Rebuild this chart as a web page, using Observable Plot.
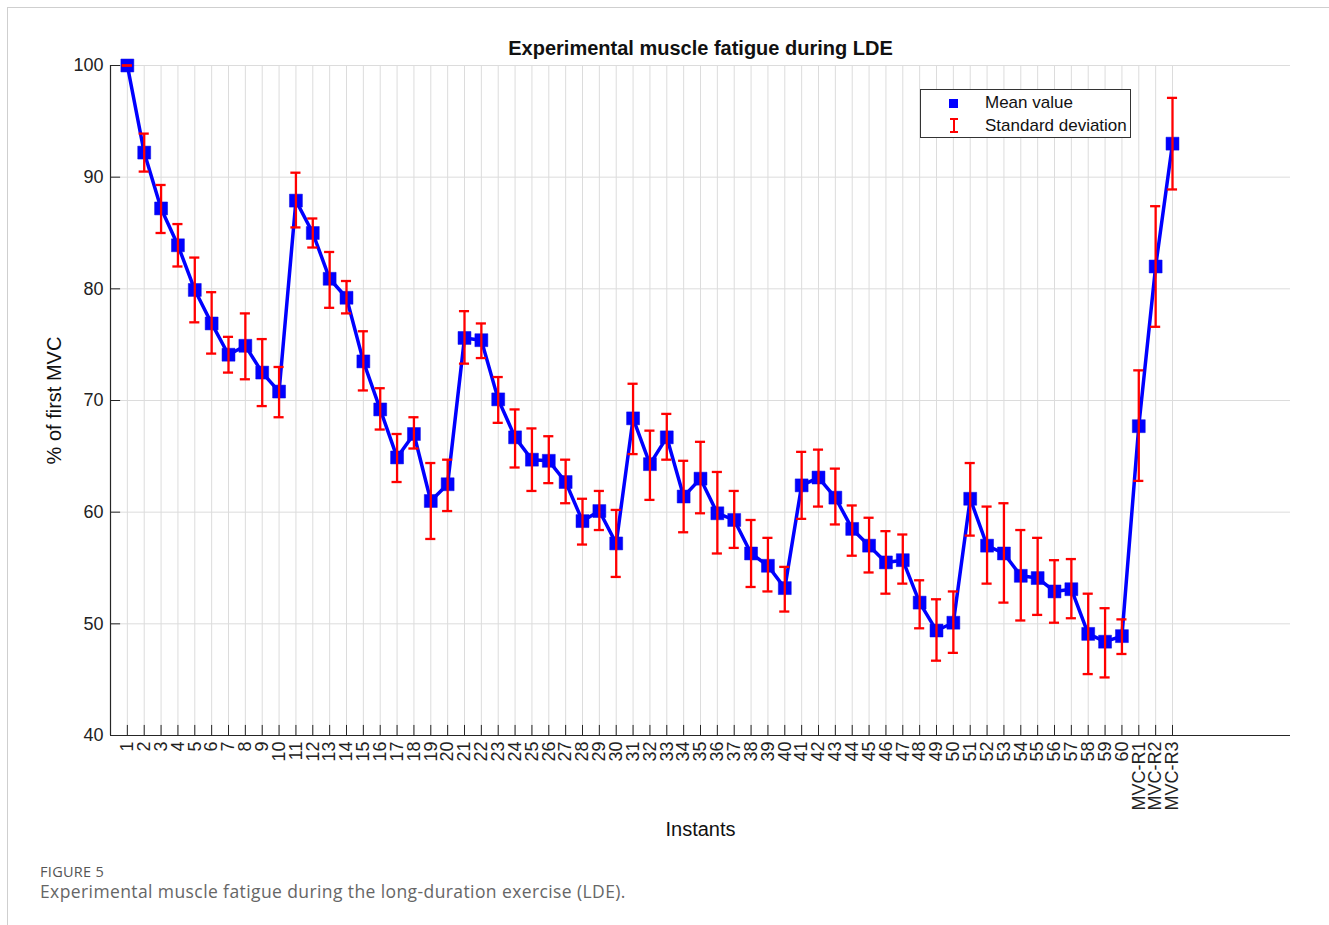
<!DOCTYPE html>
<html>
<head>
<meta charset="utf-8">
<script src="https://cdn.jsdelivr.net/npm/d3@7"></script>
<script src="https://cdn.jsdelivr.net/npm/@observablehq/plot@0.6"></script>
<style>
  html, body { margin: 0; padding: 0; background: #fff; }
  #wrap { position: relative; width: 1329px; height: 925px; overflow: hidden; font-family: "Liberation Sans", Arial, sans-serif; }
  #frameTop { position: absolute; left: 7px; top: 7px; width: 1322px; height: 0; border-top: 1.5px solid #cfcfcf; }
  #frameLeft { position: absolute; left: 7px; top: 7px; width: 0; height: 918px; border-left: 1.5px solid #cfcfcf; }
  #chart { position: absolute; left: 0; top: 0; }
  #legend { position: absolute; left: 920px; top: 89px; width: 211px; height: 49px; border: 1px solid #333; background: #fff; box-sizing: border-box; font-size: 17px; color: #111; }
  .lsq { position: absolute; left: 28px; width: 9px; height: 9px; background: #0000ff; }
  .lbar { position: absolute; left: 29px; width: 8px; height: 15px; }
  .lbar:before { content: ""; position: absolute; left: 3px; top: 0; width: 2px; height: 15px; background: #ff0000; }
  .lbar:after { content: ""; position: absolute; left: 0; top: 0; width: 8px; height: 15px; border-top: 2px solid #ff0000; border-bottom: 2px solid #ff0000; box-sizing: border-box; }
  .ltext { position: absolute; left: 64px; white-space: nowrap; line-height: 20px; }
  #figno { position: absolute; left: 40px; top: 865px; height: 14px; line-height: 14px; font-family: "Open Sans", "Noto Sans", sans-serif; font-size: 14.5px; letter-spacing: 0.3px; color: #555; white-space: nowrap; }
  #figcap { position: absolute; left: 40px; top: 881px; height: 20px; line-height: 20px; font-family: "Open Sans", "Noto Sans", sans-serif; font-size: 17.5px; letter-spacing: 0.4px; color: #666; white-space: nowrap; }
</style>
</head>
<body>
<div id="wrap">
  <div id="frameTop"></div>
  <div id="frameLeft"></div>
  <div id="chart"></div>
  <div id="legend">
    <div class="lsq" style="top:9px"></div>
    <div class="ltext" style="top:3px">Mean value</div>
    <div class="lbar" style="top:28px"></div>
    <div class="ltext" style="top:26px">Standard deviation</div>
  </div>
  <div id="figno">FIGURE 5</div>
  <div id="figcap">Experimental muscle fatigue during the long-duration exercise (LDE).</div>
</div>
<script>
const labels = ["1","2","3","4","5","6","7","8","9","10",
  "11","12","13","14","15","16","17","18","19","20",
  "21","22","23","24","25","26","27","28","29","30",
  "31","32","33","34","35","36","37","38","39","40",
  "41","42","43","44","45","46","47","48","49","50",
  "51","52","53","54","55","56","57","58","59","60",
  "MVC-R1","MVC-R2","MVC-R3"];

const meanValues = [100, 92.2, 87.2, 83.9, 79.9, 76.9, 74.1, 74.9, 72.5, 70.8,
  87.9, 85.0, 80.9, 79.2, 73.5, 69.2, 64.9, 67.0, 61.0, 62.5,
  75.6, 75.4, 70.1, 66.7, 64.7, 64.6, 62.7, 59.2, 60.1, 57.2,
  68.4, 64.3, 66.7, 61.4, 63.0, 59.9, 59.3, 56.3, 55.2, 53.2,
  62.4, 63.1, 61.3, 58.5, 57.0, 55.5, 55.7, 51.9, 49.4, 50.1,
  61.2, 57.0, 56.3, 54.3, 54.1, 52.9, 53.1, 49.1, 48.4, 48.9,
  67.7, 82.0, 93.0];

const upperValues = [100, 93.9, 89.3, 85.8, 82.8, 79.7, 75.7, 77.8, 75.5, 73.0,
  90.4, 86.3, 83.3, 80.7, 76.2, 71.1, 67.0, 68.5, 64.4, 64.7,
  78.0, 76.9, 72.1, 69.2, 67.5, 66.8, 64.7, 61.2, 61.9, 60.2,
  71.5, 67.3, 68.8, 64.6, 66.3, 63.6, 61.9, 59.3, 57.7, 55.1,
  65.4, 65.6, 63.9, 60.6, 59.5, 58.3, 58.0, 53.9, 52.2, 52.9,
  64.4, 60.5, 60.8, 58.4, 57.7, 55.7, 55.8, 52.7, 51.4, 50.4,
  72.7, 87.4, 97.1];

const lowerValues = [100, 90.5, 85.0, 82.0, 77.0, 74.2, 72.5, 71.9, 69.5, 68.5,
  85.5, 83.7, 78.3, 77.8, 70.9, 67.4, 62.7, 65.7, 57.6, 60.1,
  73.3, 73.8, 68.0, 64.0, 61.9, 62.6, 60.8, 57.1, 58.4, 54.2,
  65.2, 61.1, 64.7, 58.2, 59.9, 56.3, 56.8, 53.3, 52.9, 51.1,
  59.4, 60.5, 58.9, 56.1, 54.6, 52.7, 53.6, 49.6, 46.7, 47.4,
  57.9, 53.6, 51.9, 50.3, 50.8, 50.1, 50.5, 45.5, 45.2, 47.3,
  62.8, 76.6, 88.9];

const yTicks = [40, 50, 60, 70, 80, 90, 100];

const title = "Experimental muscle fatigue during LDE";
const yLabel = "% of first MVC";
const xLabel = "Instants";

const data = labels.map((label, i) => ({
  pos: i + 1, label, mean: meanValues[i], lo: lowerValues[i], hi: upperValues[i]
}));
const xTicks = data.map(d => d.pos);

const capHalf = 0.3;    // half-width of error-bar caps, in x units
const xTickLen = 0.9;   // inward tick length, in y units
const yTickLen = 0.6;   // inward tick length, in x units
const axisColor = "#262626";
const gridColor = "#dcdcdc";

const chart = Plot.plot({
  width: 1329,
  height: 860,
  marginLeft: 110,
  marginRight: 39,
  marginTop: 65,
  marginBottom: 125,
  style: { fontFamily: "'Liberation Sans', Arial, sans-serif", background: "transparent", color: "#222" },
  x: { type: "linear", domain: [0, 70] },
  y: { type: "linear", domain: [40, 100] },
  marks: [
    // grid
    Plot.ruleX(xTicks, { x: d => d, y1: 40, y2: 100, stroke: gridColor, strokeWidth: 1 }),
    Plot.ruleY(yTicks, { y: d => d, stroke: gridColor, strokeWidth: 1 }),
    // axes lines
    Plot.ruleY([40], { stroke: axisColor, strokeWidth: 1.2 }),
    Plot.ruleX([0], { y1: 40, y2: 100, stroke: axisColor, strokeWidth: 1.2 }),
    // inward ticks
    Plot.ruleX(xTicks, { x: d => d, y1: 40, y2: 40 + xTickLen, stroke: axisColor, strokeWidth: 1 }),
    Plot.ruleY(yTicks, { y: d => d, x1: 0, x2: yTickLen, stroke: axisColor, strokeWidth: 1 }),
    // tick labels
    Plot.axisY({ ticks: yTicks, tickSize: 0, tickPadding: 7, fontSize: 18, label: null, color: "#222" }),
    Plot.axisX({ ticks: xTicks, tickFormat: i => labels[i - 1], tickRotate: -90, tickSize: 0, tickPadding: 6, fontSize: 18, label: null, color: "#222" }),
    // data line and markers
    Plot.line(data, { x: "pos", y: "mean", stroke: "#0000ff", strokeWidth: 3.5 }),
    Plot.dot(data, { x: "pos", y: "mean", symbol: "square", r: 7.3, fill: "#0000ff", stroke: "#0a0ae0", strokeWidth: 0.5 }),
    // error bars
    Plot.ruleX(data, { x: "pos", y1: "lo", y2: "hi", stroke: "#ff0000", strokeWidth: 2.3 }),
    Plot.ruleY(data, { y: "hi", x1: d => d.pos - capHalf, x2: d => d.pos + capHalf, stroke: "#ff0000", strokeWidth: 2.3 }),
    Plot.ruleY(data, { y: "lo", x1: d => d.pos - capHalf, x2: d => d.pos + capHalf, stroke: "#ff0000", strokeWidth: 2.3 }),
    // titles
    Plot.text([title], { frameAnchor: "top", dy: -25, fontSize: 20, fontWeight: "bold", fill: "#111" }),
    Plot.text([yLabel], { frameAnchor: "left", textAnchor: "middle", dx: -56, rotate: -90, fontSize: 20, fill: "#111" }),
    Plot.text([xLabel], { frameAnchor: "bottom", dy: 100, fontSize: 20, fill: "#111" })
  ]
});
document.getElementById("chart").appendChild(chart);
</script>
</body>
</html>
